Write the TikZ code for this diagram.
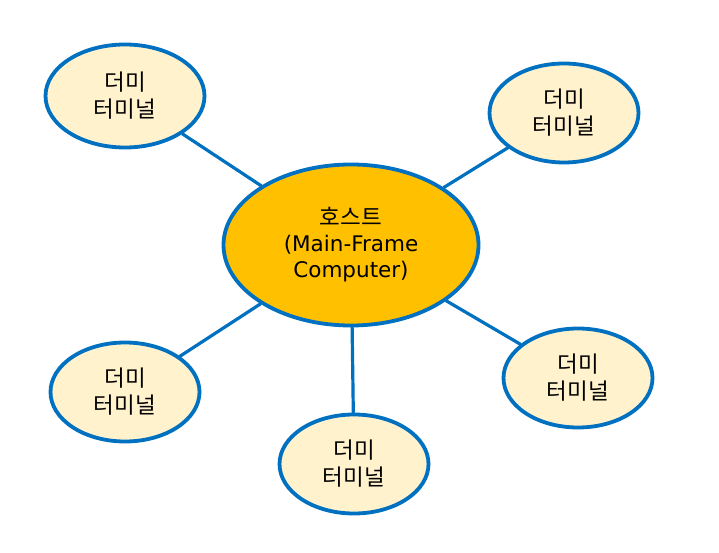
\documentclass[tikz,border=0pt]{standalone}
\usepackage{fontspec}
\setmainfont{DejaVu Sans}
\newfontfamily\krfont{Noto Sans CJK KR}
\usetikzlibrary{shapes.geometric}

\definecolor{linkblue}{HTML}{0070C0}
\definecolor{hostfill}{HTML}{FFC000}
\definecolor{termfill}{HTML}{FFF2CC}

\begin{document}
\begin{tikzpicture}[
						x=1pt, y=-1pt,
						every node/.style={align=center, font=\fontsize{21.5}{26}\selectfont},
						host/.style={ellipse, draw=linkblue, line width=3.8pt, fill=hostfill,
							minimum width=255pt, minimum height=161pt, inner sep=0pt},
						term/.style={ellipse, draw=linkblue, line width=3.8pt, fill=termfill,
							minimum width=149pt, minimum height=99pt, inner sep=0pt,
							font=\krfont\fontsize{22.5}{27}\selectfont},
						link/.style={draw=linkblue, line width=3.2pt},
						line cap=round,
						line join=round
						]
						
						% Page frame
						\useasboundingbox (0,0) rectangle (719,553);
						
						% Host
						\node[host] (host) at (351,245) {{\krfont\fontsize{22.5}{26}\selectfont 호스트}\\(Main-Frame\\Computer)};
						
						% Dummy terminals
						\node[term, minimum width=159pt, minimum height=103pt] (termTL) at (125,96) {더미\\터미널};
						\node[term] (termTR) at (564,113) {더미\\터미널};
						\node[term] (termBL) at (125,392) {더미\\터미널};
						\node[term] (termBM) at (354,464) {더미\\터미널};
						\node[term] (termBR) at (578,378) {더미\\터미널};
						
						% Links
						\draw[link] (host) -- (termTL);
						\draw[link] (host) -- (termTR);
						\draw[link] (host) -- (termBL);
						\draw[link] (host) -- (termBM);
						\draw[link] (host) -- (termBR);
						
					\end{tikzpicture}
\end{document}
